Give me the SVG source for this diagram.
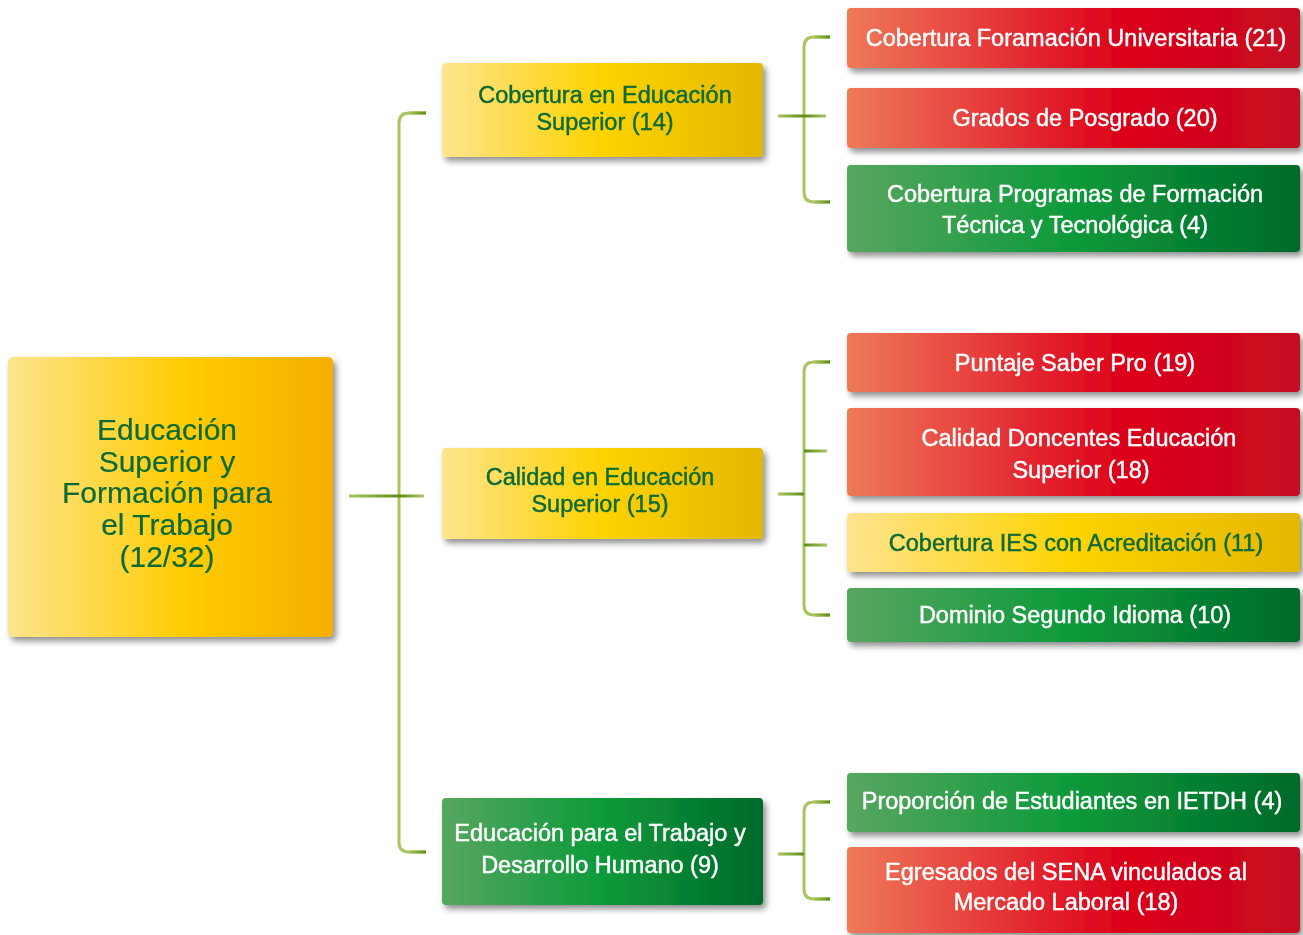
<svg xmlns="http://www.w3.org/2000/svg" width="1303" height="935" viewBox="0 0 1303 935">
<defs>
<linearGradient id="gRoot" x1="0" y1="0" x2="1" y2="0">
<stop offset="0" stop-color="#FDE48E"/><stop offset="0.55" stop-color="#FFCC00"/><stop offset="1" stop-color="#F6AE00"/>
</linearGradient>
<linearGradient id="gYel" x1="0" y1="0" x2="1" y2="0">
<stop offset="0" stop-color="#FEE48E"/><stop offset="0.5" stop-color="#FDD300"/><stop offset="1" stop-color="#E4B700"/>
</linearGradient>
<linearGradient id="gRed" x1="0" y1="0" x2="1" y2="0">
<stop offset="0" stop-color="#EE7A5A"/><stop offset="0.42" stop-color="#E3242E"/><stop offset="0.62" stop-color="#DC0019"/><stop offset="1" stop-color="#C60A21"/>
</linearGradient>
<linearGradient id="gGrn" x1="0" y1="0" x2="1" y2="0">
<stop offset="0" stop-color="#58A660"/><stop offset="0.5" stop-color="#0C9A3A"/><stop offset="1" stop-color="#006A2A"/>
</linearGradient>
<linearGradient id="gToDark" x1="0" y1="0" x2="1" y2="0">
<stop offset="0" stop-color="#A9C560"/><stop offset="1" stop-color="#5E8C14"/>
</linearGradient>
<linearGradient id="gFromDark" x1="0" y1="0" x2="1" y2="0">
<stop offset="0" stop-color="#5E8C14"/><stop offset="1" stop-color="#A9C560"/>
</linearGradient>
<filter id="sh" x="-10%" y="-20%" width="125%" height="150%">
<feDropShadow dx="3" dy="4" stdDeviation="3" flood-color="#000" flood-opacity="0.45"/>
</filter>
<style>
.nd{filter:url(#sh)}
.t{font-family:"Liberation Sans",Arial,sans-serif;font-size:23.5px;text-anchor:middle;stroke-width:0.45px}
.w{fill:#FFFFFF;stroke:#FFFFFF}
.g{fill:#0B6A34;stroke:#0B6A34}
.root{font-size:30px;stroke-width:0.2px}
.br{fill:none;stroke:#A9C560;stroke-width:3}
</style>
</defs>

<g id="connectors">
<path class="br" d="M426 113 H409 Q399 113 399 123 V842 Q399 852 409 852 H426"/>
<rect x="409" y="111.5" width="17" height="3" fill="url(#gToDark)"/>
<rect x="409" y="850.5" width="17" height="3" fill="url(#gToDark)"/>
<rect x="349" y="494.5" width="50" height="3" fill="url(#gToDark)"/>
<rect x="399" y="494.5" width="25" height="3" fill="url(#gFromDark)"/>

<path class="br" d="M830 37 H814 Q804 37 804 47 V192 Q804 202 814 202 H830"/>
<rect x="814" y="35.5" width="16" height="3" fill="url(#gToDark)"/>
<rect x="814" y="200.5" width="16" height="3" fill="url(#gToDark)"/>
<rect x="778" y="114.5" width="26" height="3" fill="url(#gToDark)"/>
<rect x="804" y="114.5" width="22" height="3" fill="url(#gFromDark)"/>

<path class="br" d="M830 362 H814 Q804 362 804 372 V605 Q804 615 814 615 H830"/>
<rect x="814" y="360.5" width="16" height="3" fill="url(#gToDark)"/>
<rect x="814" y="613.5" width="16" height="3" fill="url(#gToDark)"/>
<rect x="804" y="449.5" width="23" height="3" fill="url(#gFromDark)"/>
<rect x="804" y="543.5" width="23" height="3" fill="url(#gFromDark)"/>
<rect x="778" y="492.5" width="26" height="3" fill="url(#gToDark)"/>

<path class="br" d="M830 802 H814 Q804 802 804 812 V889 Q804 899 814 899 H830"/>
<rect x="814" y="800.5" width="16" height="3" fill="url(#gToDark)"/>
<rect x="814" y="897.5" width="16" height="3" fill="url(#gToDark)"/>
<rect x="778" y="852.5" width="26" height="3" fill="url(#gToDark)"/>
</g>

<g id="root" class="nd">
<rect x="8" y="357" width="325" height="280" rx="5" fill="url(#gRoot)"/>
<text class="t g root" x="167"><tspan x="167" y="440">Educación</tspan><tspan x="167" y="471.5">Superior y</tspan><tspan x="167" y="503">Formación para</tspan><tspan x="167" y="535">el Trabajo</tspan><tspan x="167" y="567">(12/32)</tspan></text>
</g>

<g id="mid1" class="nd">
<rect x="442" y="63" width="321" height="94" rx="4" fill="url(#gYel)"/>
<text class="t g"><tspan x="605" y="103">Cobertura en Educación</tspan><tspan x="605" y="130">Superior (14)</tspan></text>
</g>
<g id="mid2" class="nd">
<rect x="442" y="448" width="321" height="91" rx="4" fill="url(#gYel)"/>
<text class="t g"><tspan x="600" y="485">Calidad en Educación</tspan><tspan x="600" y="512">Superior (15)</tspan></text>
</g>
<g id="mid3" class="nd">
<rect x="442" y="798" width="321" height="107" rx="4" fill="url(#gGrn)"/>
<text class="t w"><tspan x="600" y="841">Educación para el Trabajo y</tspan><tspan x="600" y="873">Desarrollo Humano (9)</tspan></text>
</g>

<g id="r1" class="nd">
<rect x="847" y="8" width="453" height="60" rx="4" fill="url(#gRed)"/>
<text class="t w" x="1076" y="46">Cobertura Foramación Universitaria (21)</text>
</g>
<g id="r2" class="nd">
<rect x="847" y="88" width="453" height="60" rx="4" fill="url(#gRed)"/>
<text class="t w" x="1085" y="126">Grados de Posgrado (20)</text>
</g>
<g id="r3" class="nd">
<rect x="847" y="165" width="453" height="87" rx="4" fill="url(#gGrn)"/>
<text class="t w"><tspan x="1075" y="202">Cobertura Programas de Formación</tspan><tspan x="1075" y="233">Técnica y Tecnológica (4)</tspan></text>
</g>

<g id="r4" class="nd">
<rect x="847" y="333" width="453" height="59" rx="4" fill="url(#gRed)"/>
<text class="t w" x="1075" y="371">Puntaje Saber Pro (19)</text>
</g>
<g id="r5" class="nd">
<rect x="847" y="408" width="453" height="88" rx="4" fill="url(#gRed)"/>
<text class="t w"><tspan x="1079" y="446">Calidad Doncentes Educación</tspan><tspan x="1081" y="478">Superior (18)</tspan></text>
</g>
<g id="r6" class="nd">
<rect x="847" y="513" width="453" height="59" rx="4" fill="url(#gYel)"/>
<text class="t g" x="1076" y="551">Cobertura IES con Acreditación (11)</text>
</g>
<g id="r7" class="nd">
<rect x="847" y="588" width="453" height="54" rx="4" fill="url(#gGrn)"/>
<text class="t w" x="1075" y="623">Dominio Segundo Idioma (10)</text>
</g>

<g id="r8" class="nd">
<rect x="847" y="773" width="453" height="59" rx="4" fill="url(#gGrn)"/>
<text class="t w" x="1072" y="809">Proporción de Estudiantes en IETDH (4)</text>
</g>
<g id="r9" class="nd">
<rect x="847" y="847" width="453" height="86" rx="4" fill="url(#gRed)"/>
<text class="t w"><tspan x="1066" y="880">Egresados del SENA vinculados al</tspan><tspan x="1066" y="910">Mercado Laboral (18)</tspan></text>
</g>
</svg>
